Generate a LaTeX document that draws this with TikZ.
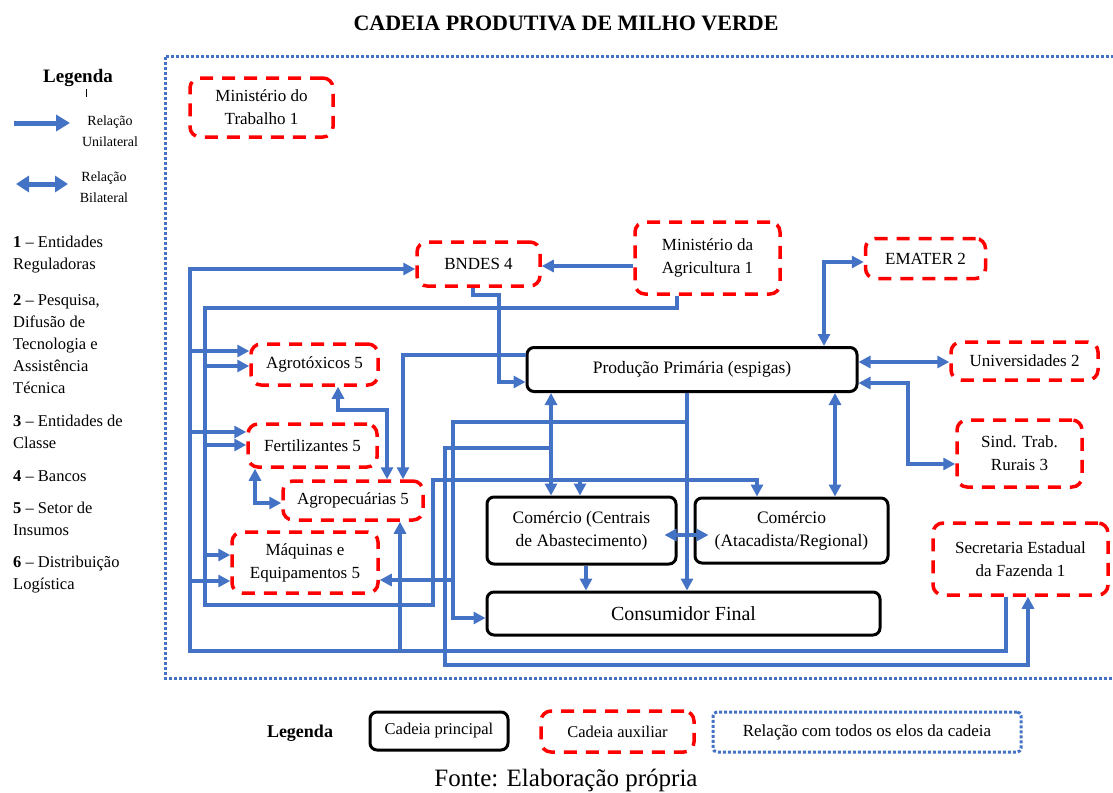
\documentclass[tikz,border=0pt]{standalone}
\usepackage{fontspec}
\setmainfont{Liberation Serif}
\usetikzlibrary{arrows.meta}
\definecolor{azul}{RGB}{68,114,196}

\begin{document}
\begin{tikzpicture}[x=1pt,y=-1pt,
	principal/.style={draw=black, line width=3pt, rounded corners=7pt, inner sep=0pt, align=center, font=\fontsize{17.5}{23}\selectfont},
	auxiliar/.style={draw=red, line width=3.5pt, dash pattern=on 13pt off 9pt, rounded corners=10pt, inner sep=0pt, align=center, font=\fontsize{17}{23}\selectfont},
	todos/.style={draw=azul, line width=3pt, dash pattern=on 3pt off 2pt},
	uni/.style={draw=azul, line width=3.2pt, -{Triangle[length=12pt,width=12pt]}},
	bi/.style={draw=azul, line width=3.2pt, {Triangle[length=12pt,width=12pt]}-{Triangle[length=12pt,width=12pt]}},
	item/.style={anchor=west, align=left, inner sep=0pt, font=\fontsize{16.5}{22}\selectfont}]
	\useasboundingbox (0,0) rectangle (1113,792);
	\node[font=\bfseries\fontsize{22}{26}\selectfont] (titulo) at (566,23) {CADEIA PRODUTIVA DE MILHO VERDE};
	\draw[todos] (165,57) rectangle (1116,678);
	% legenda lateral
	\node[font=\bfseries\fontsize{19}{22}\selectfont] (leg1) at (78,78) {Legenda};
	\draw[thin] (86,89) -- (86,97);
	\coordinate (u1) at (14,123); \coordinate (u2) at (70,123);
	\coordinate (b1) at (16,184); \coordinate (b2) at (68,184);
	\draw[uni, line width=5pt, -{Triangle[length=14pt,width=16pt]}] (u1) -- (u2);
	\draw[bi, line width=5pt, {Triangle[length=13pt,width=16pt]}-{Triangle[length=13pt,width=16pt]}] (b1) -- (b2);
	\node[align=center, font=\fontsize{14}{21}\selectfont] (tuni) at (110,131) {Relação\\Unilateral};
	\node[align=center, font=\fontsize{14}{21}\selectfont] (tbi) at (104,187) {Relação\\Bilateral};
	\node[item] (it1) at (13,255) {\textbf{1} -- Entidades\\Reguladoras};
	\node[item] (it2) at (13,344) {\textbf{2} -- Pesquisa,\\Difusão de\\Tecnologia e\\Assistência\\Técnica};
	\node[item] (it3) at (13,432) {\textbf{3} -- Entidades de\\Classe};
	\node[item] (it4) at (13,476) {\textbf{4} -- Bancos};
	\node[item] (it5) at (13,519) {\textbf{5} -- Setor de\\Insumos};
	\node[item] (it6) at (13,575) {\textbf{6} -- Distribuição\\Logística};
	% elos da cadeia
	\node[auxiliar, minimum width=143pt, minimum height=59pt] (mtrab) at (261.5,107.5) {Ministério do\\Trabalho 1};
	\node[auxiliar, minimum width=123pt, minimum height=44pt] (bndes) at (478.5,264) {BNDES 4};
	\node[auxiliar, minimum width=145pt, minimum height=72pt] (magri) at (707.5,258) {Ministério da\\Agricultura 1};
	\node[auxiliar, minimum width=120pt, minimum height=40pt] (emater) at (925.5,258.5) {EMATER 2};
	\node[auxiliar, minimum width=147pt, minimum height=38pt] (univ) at (1024.5,361) {Universidades 2};
	\node[auxiliar, minimum width=125pt, minimum height=67pt] (sind) at (1019.5,453.5) {Sind. Trab.\\Rurais 3};
	\node[auxiliar, minimum width=175pt, minimum height=72pt] (sefaz) at (1020.5,559) {Secretaria Estadual\\da Fazenda 1};
	\node[auxiliar, minimum width=127pt, minimum height=41pt] (agrot) at (314.5,364.5) {Agrotóxicos 5};
	\node[auxiliar, minimum width=129pt, minimum height=43pt] (fert) at (312.5,445.5) {Fertilizantes 5};
	\node[auxiliar, minimum width=140pt, minimum height=39pt] (agrop) at (353,500.5) {Agropecuárias 5};
	\node[auxiliar, minimum width=146pt, minimum height=61pt] (maq) at (305,562.5) {Máquinas e\\Equipamentos 5};
	\node[principal, minimum width=330pt, minimum height=44pt] (prod) at (692,369.5) {Produção Primária (espigas)};
	\node[principal, minimum width=189pt, minimum height=67pt] (ceab) at (581.5,530.5) {Comércio (Centrais\\de Abastecimento)};
	\node[principal, minimum width=193pt, minimum height=65pt] (atac) at (791.5,530.5) {Comércio\\(Atacadista/Regional)};
	\node[principal, minimum width=393pt, minimum height=43pt, font=\fontsize{20}{24}\selectfont] (consum) at (683.5,613.5) {Consumidor Final};
	% relacoes
	\draw[uni] (magri.west |- 0,266) -- (bndes.east |- 0,266);
	\draw[uni] (473,0 |- bndes.south) -- (473,295) -- (499,295) |- (prod.west |- 0,382);
	\draw[uni] (1006,0 |- sefaz.south) |- (190,651) |- (bndes.west |- 0,269);
	\draw[uni] (190,351) -- (agrot.west |- 0,351);
	\draw[uni] (190,432) -- (fert.west |- 0,432);
	\draw[uni] (190,581) -- (maq.west |- 0,581);
	\draw[uni] (400,651) -- (400,0 |- agrop.south);
	\draw[uni] (677,0 |- magri.south) |- (205,308) |- (433,605) |- (757,480) -- (757,0 |- atac.north);
	\draw[uni] (205,366) -- (agrot.west |- 0,366);
	\draw[uni] (205,445) -- (fert.west |- 0,445);
	\draw[uni] (205,555) -- (maq.west |- 0,555);
	\draw[uni] (580,480) -- (580,0 |- ceab.north);
	\draw[uni] (prod.west |- 0,355) -| (403,0 |- agrop.north);
	\draw[bi] (338,0 |- agrot.south) |- (387,410) -- (387,0 |- agrop.north);
	\draw[bi] (255,0 |- fert.south) |- (agrop.west |- 0,503);
	\draw[bi] (824,0 |- prod.north) |- (emater.west |- 0,262);
	\draw[bi] (prod.east |- 0,362) -- (univ.west |- 0,362);
	\draw[bi] (prod.east |- 0,383) -| (908,464) -- (sind.west |- 0,464);
	\draw[bi] (551,0 |- prod.south) -- (551,0 |- ceab.north);
	\draw[uni] (687,0 |- prod.south) -- (687,0 |- consum.north);
	\draw[uni] (687,422) -| (453,618) -- (consum.west |- 0,618);
	\draw[uni] (453,580) -- (maq.east |- 0,580);
	\draw[bi] (835,0 |- prod.south) -- (835,0 |- atac.north);
	\draw[bi] ([shift={(-13,4.5)}]ceab.east) -- ([shift={(15,4.5)}]atac.west);
	\draw[uni] (586,0 |- ceab.south) -- (586,0 |- consum.north);
	\draw[uni] (551,448) -| (445,665) -| (1028,0 |- sefaz.south);
	% legenda inferior
	\node[font=\bfseries\fontsize{18}{22}\selectfont] (leg2) at (300,733) {Legenda};
	\node[principal, minimum width=138pt, minimum height=38pt, font=\fontsize{16.5}{20}\selectfont] (lcp) at (439,731) {Cadeia principal};
	\node[auxiliar, minimum width=153pt, minimum height=41pt, font=\fontsize{16.5}{20}\selectfont] (lca) at (617.5,731.5) {Cadeia auxiliar};
	\node[todos, rounded corners=4pt, minimum width=308pt, minimum height=40pt, font=\fontsize{17}{20}\selectfont] (lrt) at (867,732) {Relação com todos os elos da cadeia};
	\node[font=\fontsize{25}{30}\selectfont] (fonte) at (566,780) {Fonte: Elaboração própria};
\end{tikzpicture}
\end{document}
